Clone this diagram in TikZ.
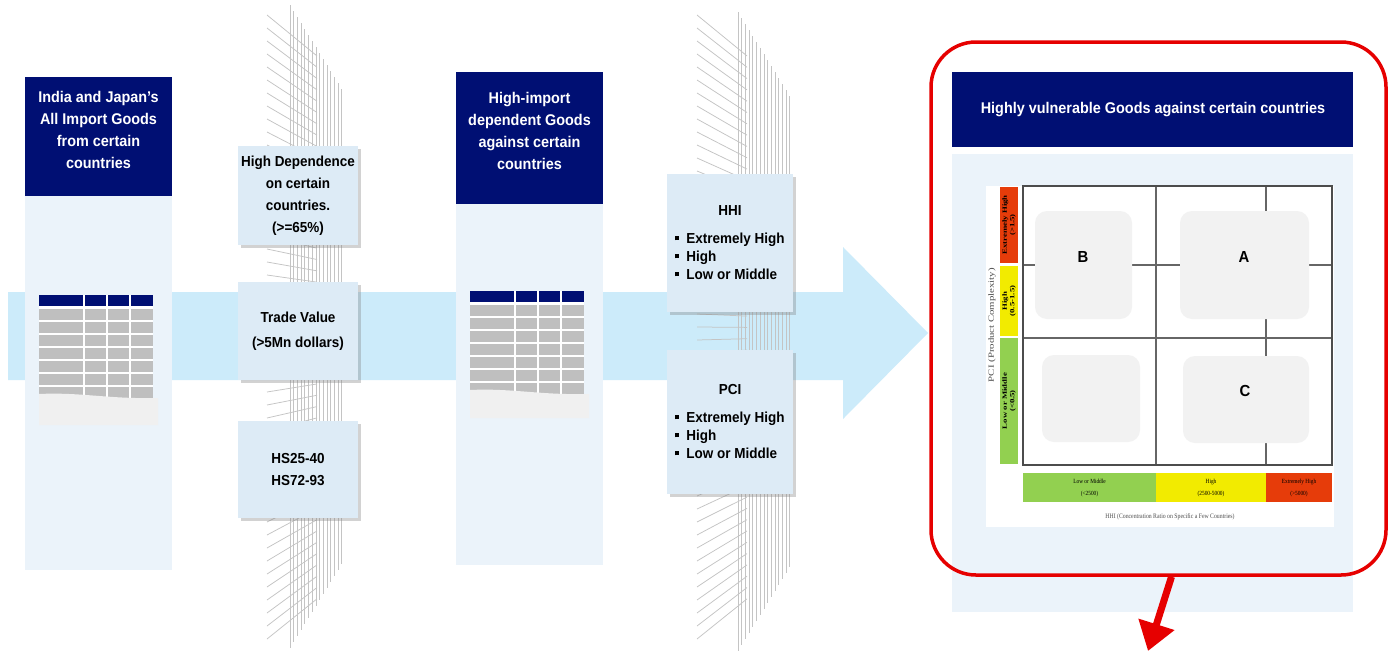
\documentclass[tikz,border=0pt]{standalone}
\usepackage{fontspec}
\setmainfont{Liberation Serif}
\newfontfamily\narrowfont[FakeStretch=0.93]{Liberation Sans}
\newfontfamily\widefont[FakeStretch=1.35]{Liberation Serif}
\newfontfamily\tightserif[FakeStretch=0.85]{Liberation Serif}
\usetikzlibrary{shadows,arrows.meta}
\definecolor{hdrblue}{HTML}{000F73}
\definecolor{palepanel}{HTML}{EBF3FA}
\definecolor{flowblue}{HTML}{CCEBFA}
\definecolor{boxblue}{HTML}{DDEBF6}
\definecolor{fencegray}{HTML}{C4C4C4}
\definecolor{cellgray}{HTML}{BFBFBF}
\definecolor{fadegray}{HTML}{F0F0F0}
\definecolor{quadgray}{HTML}{F2F2F2}
\definecolor{zonered}{HTML}{E63C0A}
\definecolor{zoneyellow}{HTML}{F2EB00}
\definecolor{zonegreen}{HTML}{92D050}
\definecolor{alertred}{HTML}{E60000}
\begin{document}
\begin{tikzpicture}[x=1pt,y=-1pt,
  fence/.style={draw=fencegray,line width=0.75pt},
  headtext/.style={text=white,font=\narrowfont\bfseries\fontsize{15.5}{22}\selectfont,align=center,inner sep=0},
  filterbox/.style={fill=boxblue,inner sep=0,align=center,font=\narrowfont\bfseries\fontsize{14.5}{22}\selectfont,
    drop shadow={shadow xshift=3pt,shadow yshift=-3pt,opacity=0.35}},
  quadbox/.style={fill=quadgray,rounded corners=12pt,inner sep=0},
  quadletter/.style={font=\narrowfont\bfseries\fontsize{16}{18}\selectfont},
  pcizone/.style={rotate=90,inner sep=0,minimum height=18,align=center,font=\widefont\bfseries\fontsize{6.5}{7.5}\selectfont},
  hhizone/.style={inner sep=0,minimum height=29,align=center,font=\tightserif\fontsize{6.3}{12}\selectfont},
  gridline/.style={draw=black!60,line width=1.4pt}]
\useasboundingbox (0,0) rectangle (1396,651);
\fill[white] (0,0) rectangle (1396,651);
\fill[flowblue] (8,292) -- (843,292) -- (843,247) -- (928,333) -- (843,419) -- (843,380) -- (8,380) -- cycle;
\foreach \fx/\dx/\ft in {290/267/5, 738/697/12} {
  \foreach \i in {0,...,14}
    \draw[fence] ({\fx+3.7*\i},{\ft+6*\i}) -- ({\fx+3.7*\i},{645+\ft/2-6*\i});
  \foreach \yl in {15,28,...,639}
    \draw[fence] (\dx,\yl) -- ({\dx+50},{330+(\yl-330)*0.87});
}
\fill[palepanel] (25,77) rectangle (172,570);
\fill[hdrblue] (25,77) rectangle (172,196);
\node[headtext] (allgoods) at (98.5,130) {India and Japan’s\\All Import Goods\\from certain\\countries};
\fill[palepanel] (456,72) rectangle (603,565);
\fill[hdrblue] (456,72) rectangle (603,204);
\node[headtext] (dependgoods) at (529.5,131) {High-import\\dependent Goods\\against certain\\countries};
\foreach \tx/\ty/\tb in {39/295/130, 470/291/127} {
  \fill[white] (\tx,\ty) rectangle ++(114,104);
  \foreach \cx/\cw in {0/44, 46/21, 69/21, 92/22} {
    \fill[hdrblue] ({\tx+\cx},\ty) rectangle ++(\cw,11);
    \foreach \r in {0,...,6}
      \fill[cellgray] ({\tx+\cx},{\ty+14+13*\r}) rectangle ++(\cw,11);
  }
  \fill[fadegray] (\tx,{\ty+99}) .. controls ({\tx+40},{\ty+97}) and ({\tx+70},{\ty+104}) .. ({\tx+114},{\ty+103})
    -- ({\tx+119},{\ty+103}) -- ({\tx+119},{\ty+\tb}) -- (\tx,{\ty+\tb}) -- cycle;
}
\node[filterbox,minimum width=120,minimum height=99] (dependence) at (298,195.5) {High Dependence\\on certain\\countries.\\(>=65\%)};
\node[filterbox,minimum width=120,minimum height=98] (tradevalue) at (298,331) {Trade Value\\[3pt](>5Mn dollars)};
\node[filterbox,minimum width=120,minimum height=97] (hscodes) at (298,469.5) {HS25-40\\HS72-93};
\node[filterbox,minimum width=126,minimum height=138] (hhibox) at (730,243) {\begin{tabular}{@{}l@{}}\multicolumn{1}{c}{HHI}\\[6pt]
  \rule[3pt]{4pt}{4pt}\hspace{7pt}Extremely High\\[-4pt] \rule[3pt]{4pt}{4pt}\hspace{7pt}High\\[-4pt] \rule[3pt]{4pt}{4pt}\hspace{7pt}Low or Middle\end{tabular}};
\node[filterbox,minimum width=126,minimum height=144] (pcibox) at (730,422) {\begin{tabular}{@{}l@{}}\multicolumn{1}{c}{PCI}\\[6pt]
  \rule[3pt]{4pt}{4pt}\hspace{7pt}Extremely High\\[-4pt] \rule[3pt]{4pt}{4pt}\hspace{7pt}High\\[-4pt] \rule[3pt]{4pt}{4pt}\hspace{7pt}Low or Middle\end{tabular}};
\fill[palepanel] (952,154) rectangle (1353,612);
\fill[hdrblue] (952,72) rectangle (1353,147);
\node[headtext] (vulnerable) at (1153,109.5) {Highly vulnerable Goods against certain countries};
\fill[white] (986,186) rectangle (1334,527);
\draw[gridline] (1156,186) -- (1156,465);
\draw[gridline] (1266,186) -- (1266,465);
\draw[gridline] (1023,338) -- (1332,338);
\draw[gridline] (1023,265) -- (1332,265);
\draw[gridline,draw=black!70] (1023,186) rectangle (1332,465);
\node[quadbox,minimum width=97,minimum height=108] (quadB) at (1083.5,265) {};
\node[quadbox,minimum width=129,minimum height=108] (quadA) at (1244.5,265) {};
\node[quadbox,minimum width=98,minimum height=87] (quadD) at (1091,398.5) {};
\node[quadbox,minimum width=126,minimum height=87] (quadC) at (1246,399.5) {};
\node[quadletter] (letterB) at (1083,257) {B};
\node[quadletter] (letterA) at (1244,257) {A};
\node[quadletter] (letterC) at (1245,391) {C};
\node[pcizone,fill=zonered,minimum width=76] (pcitop) at (1009,225) {Extremely High\\(>1.5)};
\node[pcizone,fill=zoneyellow,minimum width=70] (pcimid) at (1009,301) {High\\(0.5-1.5)};
\node[pcizone,fill=zonegreen,minimum width=126] (pcilow) at (1009,401) {Low or Middle\\(<0.5)};
\node[rotate=90,font=\widefont\fontsize{8}{9}\selectfont,text=black!70,inner sep=0] (pciaxis) at (992,325) {PCI (Product Complexity)};
\node[hhizone,fill=zonegreen,minimum width=133] (hhilow) at (1089.5,487.5) {Low or Middle\\(<2500)};
\node[hhizone,fill=zoneyellow,minimum width=110] (hhimid) at (1211,487.5) {High\\(2500-5000)};
\node[hhizone,fill=zonered,minimum width=66] (hhitop) at (1299,487.5) {Extremely High\\(>5000)};
\node[font=\tightserif\fontsize{6.8}{8}\selectfont,text=black!70,inner sep=0] (hhiaxis) at (1170,517) {HHI (Concentration Ratio on Specific a Few Countries)};
\node[draw=alertred,line width=3.5pt,rounded corners=45pt,minimum width=455,minimum height=533,inner sep=0] (focus) at (1158.5,308.5) {};
\coordinate (downout) at (1148,651);
\draw[alertred,line width=7pt,-{Triangle[width=36pt,length=28pt]}] ([xshift=13pt]focus.south) -- (downout);
\end{tikzpicture}
\end{document}
